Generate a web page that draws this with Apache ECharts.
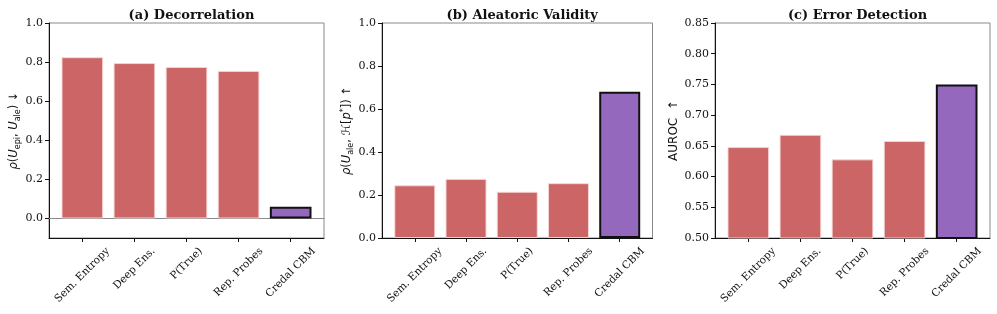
<!DOCTYPE html>
<html><head><meta charset="utf-8">
<script src="https://cdn.jsdelivr.net/npm/echarts@6/dist/echarts.min.js"></script>
<style>html,body{margin:0;padding:0;background:#fff}#c{width:997px;height:314px}</style>
</head><body><div id="c"></div>
<script>
const categories = ['Sem. Entropy', 'Deep Ens.', 'P(True)', 'Rep. Probes', 'Credal CBM'];
const decorrelation = [0.825, 0.795, 0.775, 0.755, 0.06];
const aleatoricValidity = [0.245, 0.275, 0.215, 0.255, 0.68];
const errorDetection = [0.648, 0.668, 0.628, 0.658, 0.75];
const titles = ['(a) Decorrelation', '(b) Aleatoric Validity', '(c) Error Detection'];
const yTicksA = [0.0, 0.2, 0.4, 0.6, 0.8, 1.0];
const yTicksB = [0.0, 0.2, 0.4, 0.6, 0.8, 1.0];
const yTicksC = [0.50, 0.55, 0.60, 0.65, 0.70, 0.75, 0.80, 0.85];
const yRanges = [[-0.1, 1.0], [0.0, 1.0], [0.5, 0.85]];

const RED = '#cc6566', PURPLE = '#9468bd';
const serif = 'DejaVu Serif';
const sans = 'DejaVu Sans';
const XFONT = 10.5, XLH = 12.5, XPAD = 7;

// plot frames (left, width) in px; top 23, bottom 238
const frames = [[49, 275], [382, 270.5], [715, 275]];
const TOP = 23, BOTTOM = 76;
// matplotlib bar xlim: 5 bars of width .8 plus 5% margins -> 5.28 units
const SPAN = 5.28, INSET = 0.14;

const ctx = document.createElement('canvas').getContext('2d');
ctx.font = XFONT + 'px "' + serif + '"';
const xRich = {};
categories.forEach((c, i) => {
  const w = ctx.measureText(c).width;
  const d = (w + XLH) / 2;
  xRich['l' + i] = {fontFamily: serif, fontSize: XFONT, lineHeight: XLH, color: '#111',
    padding: [d, d, 0, 0]};
});

const rich = {
  n: {fontFamily: sans, fontSize: 11.5, lineHeight: 15, color: '#111'},
  a: {fontFamily: sans, fontSize: 12, lineHeight: 15, color: '#111'},
  i: {fontFamily: sans, fontSize: 11.5, lineHeight: 15, fontStyle: 'italic', color: '#111'},
  s: {fontFamily: sans, fontSize: 8, lineHeight: 9, verticalAlign: 'bottom', color: '#111'},
  p: {fontFamily: sans, fontSize: 8, lineHeight: 10, verticalAlign: 'top', color: '#111'}
};
const names = [
  '{i|ρ}{n|(}{i|U}{s|epi}{n|, }{i|U}{s|ale}{n|) ↓}',
  '{i|ρ}{n|(}{i|U}{s|ale}{n|, }{i|ℋ}{n|[}{i|p}{p|*}{n|]) ↑}',
  '{a|AUROC  ↑}'
];
const gaps = [22, 25, 34];
const ticks = [yTicksA, yTicksB, yTicksC];
const dataSets = [decorrelation, aleatoricValidity, errorDetection];
const decimals = [1, 1, 2];

const grid = [], xAxis = [], yAxis = [], series = [];
frames.forEach(([L, Wd], k) => {
  const u = Wd / SPAN;
  const og = grid.length;
  grid.push({left: L, width: Wd, top: TOP, bottom: BOTTOM, show: true,
    borderColor: '#8a8a8a', borderWidth: 1, containLabel: false, outerBoundsMode: 'none'});
  grid.push({left: L + INSET * u, width: 5 * u, top: TOP, bottom: BOTTOM, show: false,
    containLabel: false, outerBoundsMode: 'none'});
  xAxis.push({type: 'category', gridIndex: og, data: categories, boundaryGap: true,
    axisLine: {show: true, onZero: false, lineStyle: {color: '#111', width: 1}},
    axisTick: {show: false}, axisLabel: {show: false}, splitLine: {show: false}});
  if (k === 0) {
    xAxis.push({type: 'category', gridIndex: og, data: categories, position: 'top',
      axisLine: {show: true, onZero: true, lineStyle: {color: '#8a8a8a', width: 1}},
      axisTick: {show: false}, axisLabel: {show: false}, splitLine: {show: false}});
  }
  const ix = xAxis.length;
  xAxis.push({type: 'category', gridIndex: og + 1, data: categories, boundaryGap: true,
    axisLine: {show: false, onZero: false},
    axisTick: {show: true, alignWithLabel: true, length: 4, lineStyle: {color: '#111'}},
    axisLabel: {show: true, interval: 0, margin: XPAD, align: 'center', verticalAlign: 'middle',
      rotate: 45, rich: xRich,
      formatter: (v, i) => '{l' + i + '|' + v + '}'},
    splitLine: {show: false}});
  yAxis.push({type: 'value', gridIndex: og,
    min: yRanges[k][0], max: yRanges[k][1],
    name: names[k], nameLocation: 'middle', nameRotate: 90, nameGap: gaps[k],
    nameTextStyle: {rich: rich},
    axisLine: {show: true, onZero: false, lineStyle: {color: '#111', width: 1}},
    axisTick: {show: true, length: 4, lineStyle: {color: '#111'}, customValues: ticks[k]},
    axisLabel: {fontFamily: serif, fontSize: 11, color: '#111', margin: 6,
      customValues: ticks[k], showMinLabel: true, showMaxLabel: true,
      formatter: v => (Math.abs(v) < 1e-9 ? 0 : v).toFixed(decimals[k])},
    splitLine: {show: false}});
  const iy = yAxis.length;
  yAxis.push({type: 'value', gridIndex: og + 1, show: false,
    min: yRanges[k][0], max: yRanges[k][1], splitLine: {show: false}});
  series.push({
    type: 'bar', xAxisIndex: ix, yAxisIndex: iy, barWidth: '80%', z: 1,
    data: dataSets[k].map((v, i) => ({
      value: v,
      itemStyle: i === 4
        ? {color: PURPLE, borderColor: '#111', borderWidth: 2}
        : {color: RED, borderColor: 'rgba(250,215,215,0.9)', borderWidth: 1}
    }))
  });
});

const option = {
  animation: false,
  title: titles.map((t, k) => ({
    text: t,
    left: frames[k][0] + frames[k][1] / 2,
    top: 4,
    textAlign: 'center',
    textStyle: {fontFamily: serif, fontWeight: 'bold', fontSize: 13, color: '#111'}
  })),
  grid, xAxis, yAxis, series
};
const chart = echarts.init(document.getElementById('c'), null, {renderer: 'canvas'});
chart.setOption(option);
</script></body></html>
